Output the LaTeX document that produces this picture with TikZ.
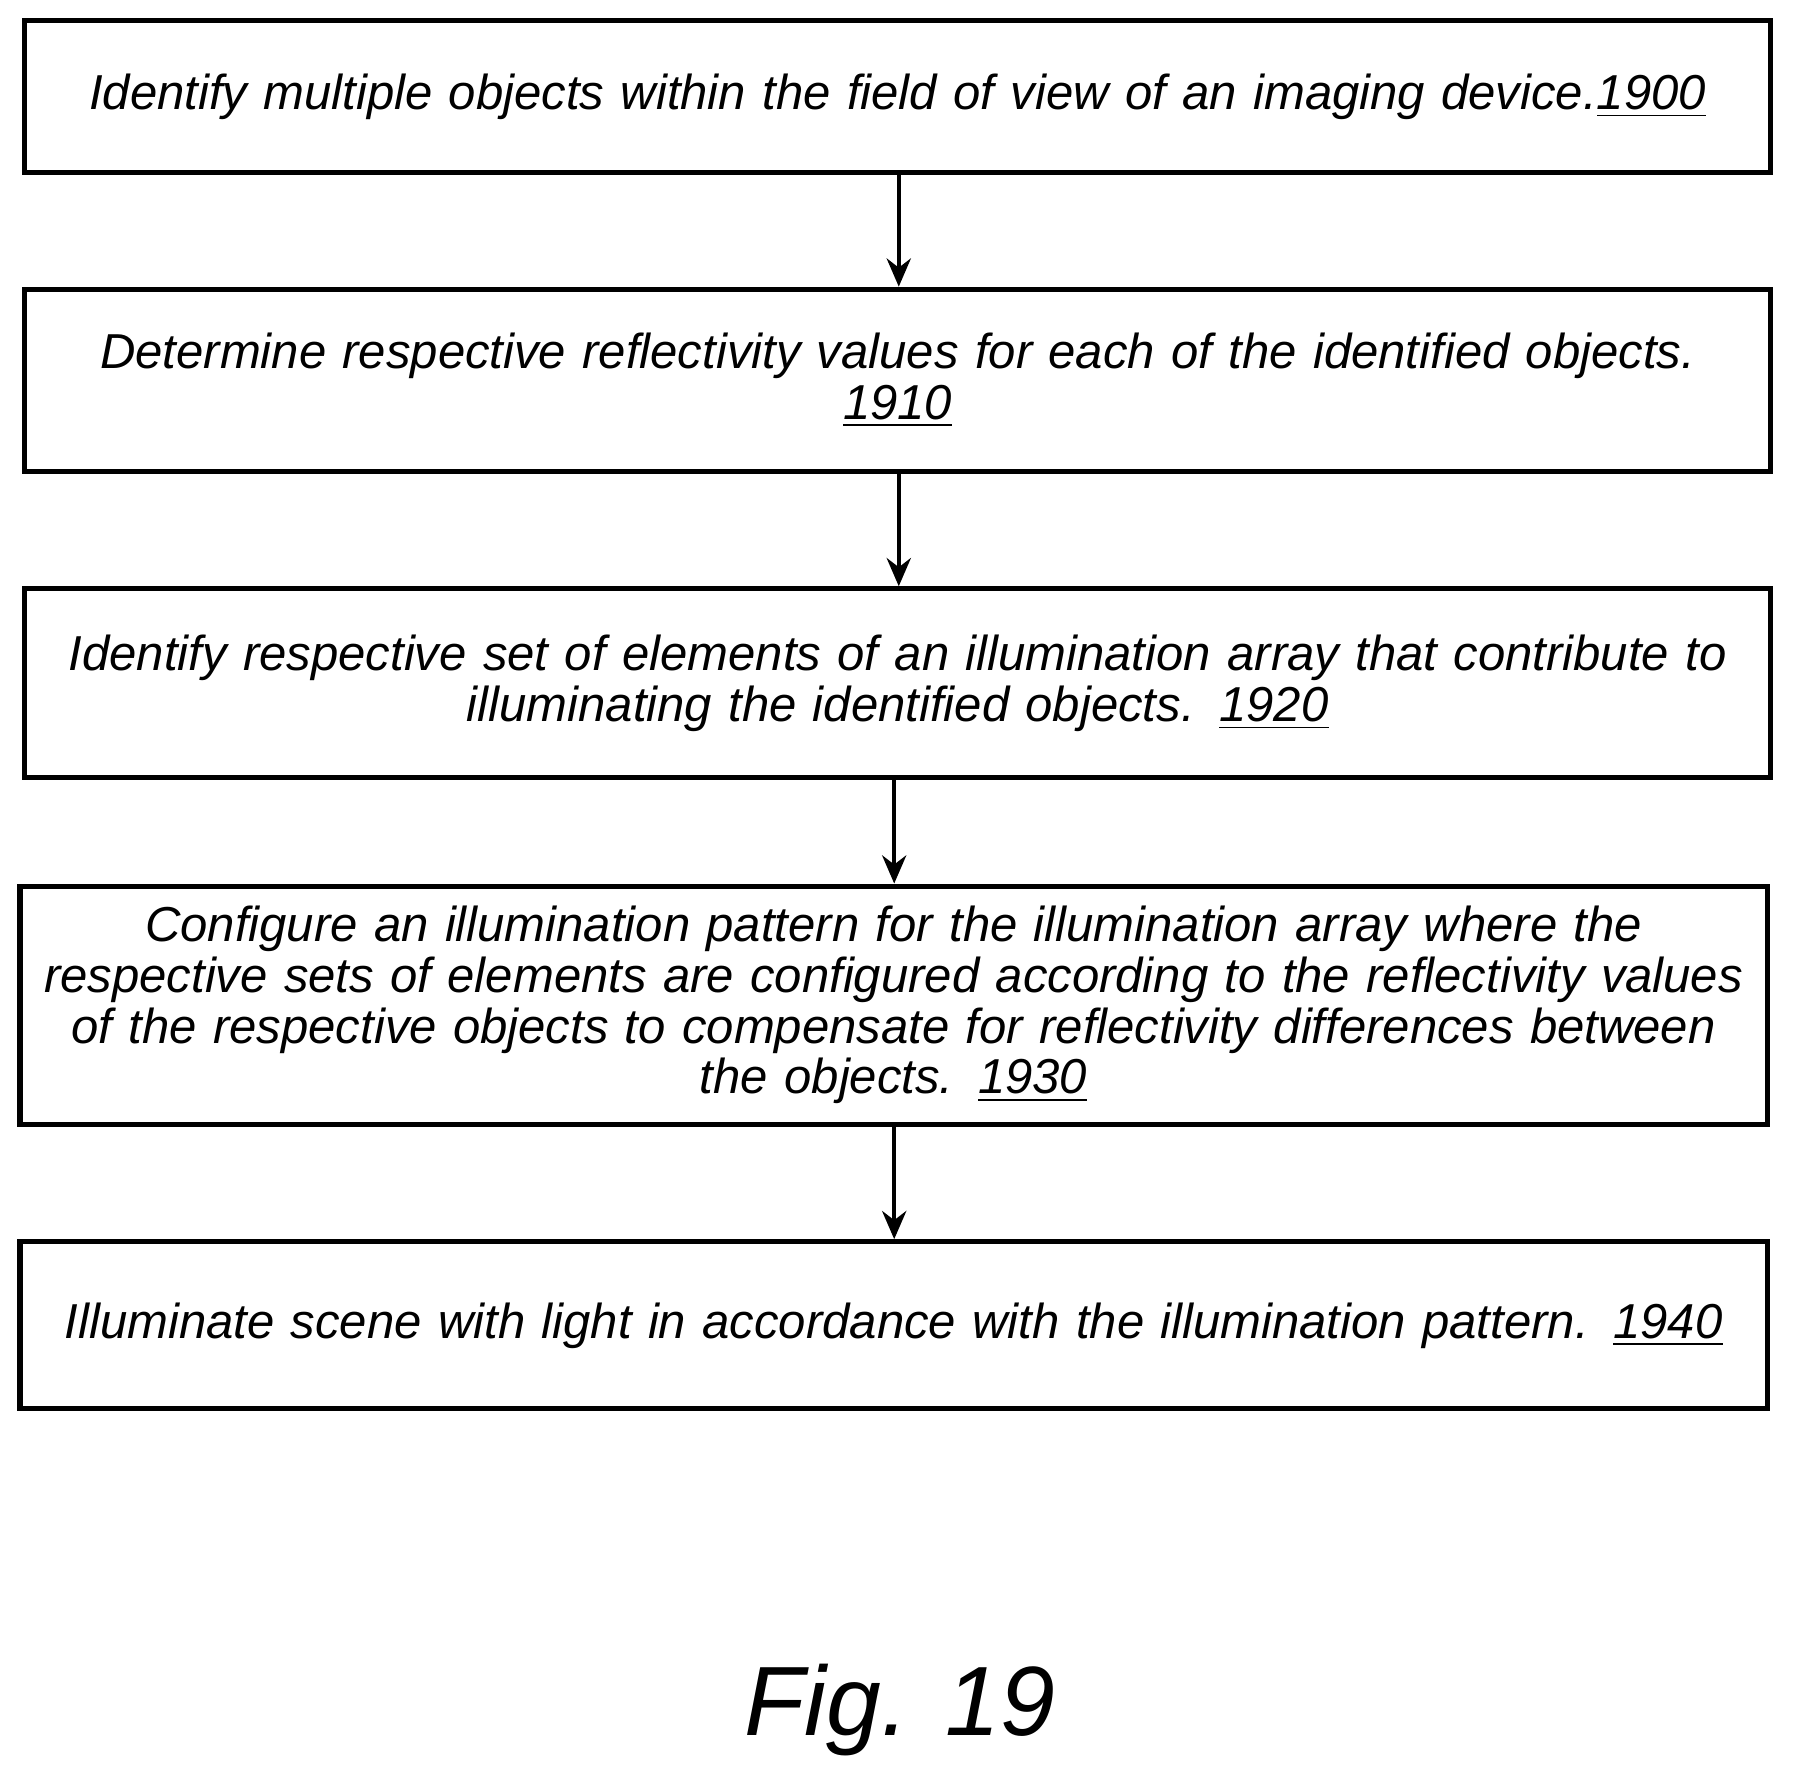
\documentclass[tikz,border=0pt]{standalone}
\usepackage{fontspec}
\setmainfont{Liberation Sans}
\usetikzlibrary{arrows.meta}
\newcommand{\stepno}[1]{\underline{#1}}
\begin{document}
\begin{tikzpicture}[
    x = 0.01cm, y = -0.01cm,
    >={Stealth[length=7pt,width=6pt]}, % arrow head style
    stepbox/.style = {draw, line width=1.3pt, inner sep=0pt,
        minimum width=15.26cm, text width=15.2cm, align=center,
        font=\fontsize{12.2}{12.6}\selectfont\itshape},
    flow/.style = {->, line width=1pt}
    ]
    \useasboundingbox (0,0) rectangle (1568,1560);

    \node[stepbox, minimum height=1.33cm] (s1900) at (785,84.5)
        {Identify multiple objects within the field of view of an imaging device.\stepno{1900}};
    \node[stepbox, minimum height=1.59cm] (s1910) at (785,332.5)
        {Determine respective reflectivity values for each of the identified objects.\\ \stepno{1910}};
    \node[stepbox, minimum height=1.65cm] (s1920) at (785,597.5)
        {Identify respective set of elements of an illumination array that contribute to\\ illuminating the identified objects. \stepno{1920}};
    \node[stepbox, minimum height=2.08cm, minimum width=15.27cm] (s1930) at (781.5,879)
        {Configure an illumination pattern for the illumination array where the\\ respective sets of elements are configured according to the reflectivity values\\ of the respective objects to compensate for reflectivity differences between\\ the objects. \stepno{1930}};
    \node[stepbox, minimum height=1.46cm, minimum width=15.27cm] (s1940) at (781.5,1159)
        {Illuminate scene with light in accordance with the illumination pattern. \stepno{1940}};

    \node[font=\fontsize{24.5}{26}\selectfont\itshape] (fig) at (787,1495) {Fig. 19};

    \draw[flow] (s1900.south -| 786,0) -- (s1910.north -| 786,0);
    \draw[flow] (s1910.south -| 786,0) -- (s1920.north -| 786,0);
    \draw[flow] (s1920.south -| 782,0) -- (s1930.north -| 782,0);
    \draw[flow] (s1930.south -| 782,0) -- (s1940.north -| 782,0);
\end{tikzpicture}
\end{document}
